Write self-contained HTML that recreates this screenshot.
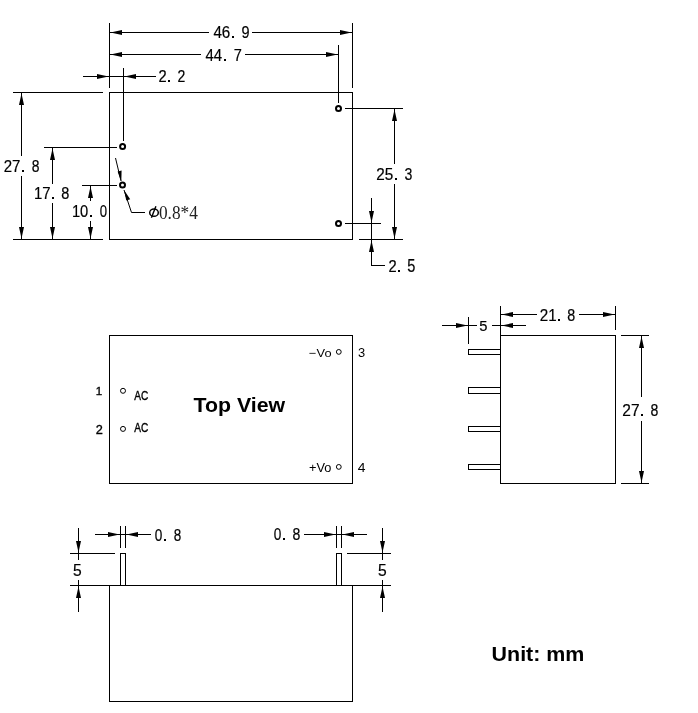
<!DOCTYPE html>
<html><head><meta charset="utf-8"><style>
html,body{margin:0;padding:0;background:#fff;width:698px;height:713px;overflow:hidden}
svg{display:block;filter:grayscale(100%)}
</style></head><body>
<svg width="698" height="713" viewBox="0 0 698 713">
<rect width="698" height="713" fill="#fff"/>
<g stroke="#000" fill="#000" shape-rendering="crispEdges">
<line x1="109" y1="92.5" x2="353" y2="92.5" stroke-width="1"/>
<line x1="109.5" y1="92" x2="109.5" y2="240" stroke-width="1"/>
<line x1="352.5" y1="92" x2="352.5" y2="240" stroke-width="1"/>
<line x1="109" y1="239.5" x2="353" y2="239.5" stroke-width="1"/>
<line x1="109.5" y1="23" x2="109.5" y2="88" stroke-width="1"/>
<line x1="352.5" y1="23" x2="352.5" y2="88" stroke-width="1"/>
<line x1="110" y1="32.5" x2="209" y2="32.5" stroke-width="1"/>
<line x1="252" y1="32.5" x2="352" y2="32.5" stroke-width="1"/>
<line x1="338.5" y1="45" x2="338.5" y2="103" stroke-width="1"/>
<line x1="110" y1="54.5" x2="201" y2="54.5" stroke-width="1"/>
<line x1="245" y1="54.5" x2="338" y2="54.5" stroke-width="1"/>
<line x1="123.5" y1="68" x2="123.5" y2="141" stroke-width="1"/>
<line x1="83" y1="76.5" x2="156" y2="76.5" stroke-width="1"/>
<line x1="13" y1="92.5" x2="103" y2="92.5" stroke-width="1"/>
<line x1="13" y1="239.5" x2="103" y2="239.5" stroke-width="1"/>
<line x1="21.5" y1="93" x2="21.5" y2="156" stroke-width="1"/>
<line x1="21.5" y1="176" x2="21.5" y2="239" stroke-width="1"/>
<line x1="44" y1="147.5" x2="117" y2="147.5" stroke-width="1"/>
<line x1="52.5" y1="148" x2="52.5" y2="184" stroke-width="1"/>
<line x1="52.5" y1="203" x2="52.5" y2="239" stroke-width="1"/>
<line x1="82" y1="185.5" x2="117" y2="185.5" stroke-width="1"/>
<line x1="90.5" y1="186" x2="90.5" y2="201" stroke-width="1"/>
<line x1="90.5" y1="221" x2="90.5" y2="239" stroke-width="1"/>
<line x1="345" y1="108.5" x2="403" y2="108.5" stroke-width="1"/>
<line x1="359" y1="239.5" x2="403" y2="239.5" stroke-width="1"/>
<line x1="394.5" y1="109" x2="394.5" y2="164" stroke-width="1"/>
<line x1="394.5" y1="184" x2="394.5" y2="239" stroke-width="1"/>
<line x1="345" y1="223.5" x2="381" y2="223.5" stroke-width="1"/>
<line x1="371.5" y1="198" x2="371.5" y2="265" stroke-width="1"/>
<line x1="371" y1="265.5" x2="385" y2="265.5" stroke-width="1"/>
<line x1="109" y1="335.5" x2="353" y2="335.5" stroke-width="1"/>
<line x1="109.5" y1="335" x2="109.5" y2="484" stroke-width="1"/>
<line x1="352.5" y1="335" x2="352.5" y2="484" stroke-width="1"/>
<line x1="109" y1="483.5" x2="353" y2="483.5" stroke-width="1"/>
<line x1="500.5" y1="306" x2="500.5" y2="484" stroke-width="1"/>
<line x1="615.5" y1="306" x2="615.5" y2="330" stroke-width="1"/>
<line x1="500" y1="335.5" x2="616" y2="335.5" stroke-width="1"/>
<line x1="615.5" y1="335" x2="615.5" y2="484" stroke-width="1"/>
<line x1="500" y1="483.5" x2="616" y2="483.5" stroke-width="1"/>
<line x1="468" y1="349.5" x2="501" y2="349.5" stroke-width="1"/>
<line x1="468" y1="354.5" x2="501" y2="354.5" stroke-width="1"/>
<line x1="468.5" y1="349" x2="468.5" y2="355" stroke-width="1"/>
<line x1="468" y1="387.5" x2="501" y2="387.5" stroke-width="1"/>
<line x1="468" y1="393.5" x2="501" y2="393.5" stroke-width="1"/>
<line x1="468.5" y1="387" x2="468.5" y2="394" stroke-width="1"/>
<line x1="468" y1="426.5" x2="501" y2="426.5" stroke-width="1"/>
<line x1="468" y1="431.5" x2="501" y2="431.5" stroke-width="1"/>
<line x1="468.5" y1="426" x2="468.5" y2="432" stroke-width="1"/>
<line x1="468" y1="464.5" x2="501" y2="464.5" stroke-width="1"/>
<line x1="468" y1="469.5" x2="501" y2="469.5" stroke-width="1"/>
<line x1="468.5" y1="464" x2="468.5" y2="470" stroke-width="1"/>
<line x1="501" y1="314.5" x2="537" y2="314.5" stroke-width="1"/>
<line x1="579" y1="314.5" x2="615" y2="314.5" stroke-width="1"/>
<line x1="468.5" y1="317" x2="468.5" y2="344" stroke-width="1"/>
<line x1="442" y1="325.5" x2="477" y2="325.5" stroke-width="1"/>
<line x1="492" y1="325.5" x2="526" y2="325.5" stroke-width="1"/>
<line x1="621" y1="335.5" x2="649" y2="335.5" stroke-width="1"/>
<line x1="621" y1="483.5" x2="649" y2="483.5" stroke-width="1"/>
<line x1="641.5" y1="336" x2="641.5" y2="397" stroke-width="1"/>
<line x1="641.5" y1="421" x2="641.5" y2="483" stroke-width="1"/>
<line x1="109" y1="585.5" x2="353" y2="585.5" stroke-width="1"/>
<line x1="109.5" y1="585" x2="109.5" y2="702" stroke-width="1"/>
<line x1="352.5" y1="585" x2="352.5" y2="702" stroke-width="1"/>
<line x1="109" y1="701.5" x2="353" y2="701.5" stroke-width="1"/>
<line x1="120" y1="553.5" x2="126" y2="553.5" stroke-width="1"/>
<line x1="120.5" y1="553" x2="120.5" y2="585" stroke-width="1"/>
<line x1="125.5" y1="553" x2="125.5" y2="585" stroke-width="1"/>
<line x1="120.5" y1="526" x2="120.5" y2="548" stroke-width="1"/>
<line x1="125.5" y1="526" x2="125.5" y2="548" stroke-width="1"/>
<line x1="336" y1="553.5" x2="342" y2="553.5" stroke-width="1"/>
<line x1="336.5" y1="553" x2="336.5" y2="585" stroke-width="1"/>
<line x1="341.5" y1="553" x2="341.5" y2="585" stroke-width="1"/>
<line x1="336.5" y1="526" x2="336.5" y2="548" stroke-width="1"/>
<line x1="341.5" y1="526" x2="341.5" y2="548" stroke-width="1"/>
<line x1="95" y1="534.5" x2="151" y2="534.5" stroke-width="1"/>
<line x1="304" y1="534.5" x2="367" y2="534.5" stroke-width="1"/>
<line x1="70" y1="553.5" x2="115" y2="553.5" stroke-width="1"/>
<line x1="70" y1="585.5" x2="109" y2="585.5" stroke-width="1"/>
<line x1="78.5" y1="528" x2="78.5" y2="560" stroke-width="1"/>
<line x1="78.5" y1="580" x2="78.5" y2="612" stroke-width="1"/>
<line x1="347" y1="553.5" x2="391" y2="553.5" stroke-width="1"/>
<line x1="352" y1="585.5" x2="391" y2="585.5" stroke-width="1"/>
<line x1="382.5" y1="528" x2="382.5" y2="560" stroke-width="1"/>
<line x1="382.5" y1="580" x2="382.5" y2="612" stroke-width="1"/>
</g>
<g stroke="#000" fill="#000">
<polygon stroke="none" points="110.50,32.50 122.00,30.00 122.00,35.00"/>
<polygon stroke="none" points="351.50,32.50 340.00,30.00 340.00,35.00"/>
<rect x="232" y="36" width="2" height="2" stroke="none" shape-rendering="crispEdges"/>
<polygon stroke="none" points="110.50,54.50 122.00,52.00 122.00,57.00"/>
<polygon stroke="none" points="337.50,54.50 326.00,52.00 326.00,57.00"/>
<rect x="224" y="59" width="2" height="2" stroke="none" shape-rendering="crispEdges"/>
<polygon stroke="none" points="108.50,76.50 97.00,74.00 97.00,79.00"/>
<polygon stroke="none" points="124.50,76.50 136.00,74.00 136.00,79.00"/>
<rect x="168" y="80" width="2" height="2" stroke="none" shape-rendering="crispEdges"/>
<polygon stroke="none" points="21.50,93.50 19.00,105.00 24.00,105.00"/>
<polygon stroke="none" points="21.50,238.50 19.00,227.00 24.00,227.00"/>
<rect x="22" y="170" width="2" height="2" stroke="none" shape-rendering="crispEdges"/>
<polygon stroke="none" points="52.50,148.50 50.00,160.00 55.00,160.00"/>
<polygon stroke="none" points="52.50,238.50 50.00,227.00 55.00,227.00"/>
<rect x="52" y="197" width="2" height="2" stroke="none" shape-rendering="crispEdges"/>
<polygon stroke="none" points="90.50,186.50 88.00,198.00 93.00,198.00"/>
<polygon stroke="none" points="90.50,238.50 88.00,227.00 93.00,227.00"/>
<rect x="90" y="215" width="2" height="2" stroke="none" shape-rendering="crispEdges"/>
<circle cx="122.6" cy="146.4" r="2.5" fill="none" stroke-width="2"/>
<circle cx="122.5" cy="185" r="2.5" fill="none" stroke-width="2"/>
<circle cx="338.5" cy="108.5" r="2.5" fill="none" stroke-width="2"/>
<circle cx="338.5" cy="223.5" r="2.5" fill="none" stroke-width="2"/>
<line x1="115.5" y1="158" x2="121" y2="181" stroke-width="1"/>
<polygon stroke="none" points="121.3,181.5 117.6,171.6 121.6,170.6"/>
<polyline points="124,190 131.5,212.5 145,212.5" fill="none" stroke-width="1"/>
<polygon stroke="none" points="124,190 130.2,199.2 126.3,200.5"/>
<ellipse cx="154" cy="212.7" rx="4.3" ry="3.6" fill="none" stroke-width="1.5"/>
<line x1="151.4" y1="217.8" x2="155.9" y2="206.3" stroke-width="1.4"/>
<polygon stroke="none" points="394.50,109.50 392.00,121.00 397.00,121.00"/>
<polygon stroke="none" points="394.50,238.50 392.00,227.00 397.00,227.00"/>
<rect x="395" y="178" width="2" height="2" stroke="none" shape-rendering="crispEdges"/>
<polygon stroke="none" points="371.50,222.50 369.00,211.00 374.00,211.00"/>
<polygon stroke="none" points="371.50,240.50 369.00,252.00 374.00,252.00"/>
<rect x="398" y="270" width="2" height="2" stroke="none" shape-rendering="crispEdges"/>
<circle cx="123" cy="390.8" r="2.5" fill="none" stroke-width="1.0"/>
<circle cx="123" cy="428.9" r="2.5" fill="none" stroke-width="1.0"/>
<circle cx="338.8" cy="351.9" r="2.4" fill="none" stroke-width="1.0"/>
<circle cx="338.8" cy="466.9" r="2.4" fill="none" stroke-width="1.0"/>
<polygon stroke="none" points="501.50,314.50 513.00,312.00 513.00,317.00"/>
<polygon stroke="none" points="614.50,314.50 603.00,312.00 603.00,317.00"/>
<rect x="558" y="319" width="2" height="2" stroke="none" shape-rendering="crispEdges"/>
<polygon stroke="none" points="467.50,325.50 456.00,323.00 456.00,328.00"/>
<polygon stroke="none" points="501.50,325.50 513.00,323.00 513.00,328.00"/>
<polygon stroke="none" points="641.50,336.50 639.00,348.00 644.00,348.00"/>
<polygon stroke="none" points="641.50,482.50 639.00,471.00 644.00,471.00"/>
<rect x="641" y="414" width="2" height="2" stroke="none" shape-rendering="crispEdges"/>
<polygon stroke="none" points="119.50,534.50 108.00,532.00 108.00,537.00"/>
<polygon stroke="none" points="126.50,534.50 138.00,532.00 138.00,537.00"/>
<rect x="164" y="539" width="2" height="2" stroke="none" shape-rendering="crispEdges"/>
<polygon stroke="none" points="335.50,534.50 324.00,532.00 324.00,537.00"/>
<polygon stroke="none" points="342.50,534.50 354.00,532.00 354.00,537.00"/>
<rect x="283" y="538" width="2" height="2" stroke="none" shape-rendering="crispEdges"/>
<polygon stroke="none" points="78.50,552.50 76.00,541.00 81.00,541.00"/>
<polygon stroke="none" points="78.50,586.50 76.00,598.00 81.00,598.00"/>
<polygon stroke="none" points="382.50,552.50 380.00,541.00 385.00,541.00"/>
<polygon stroke="none" points="382.50,586.50 380.00,598.00 385.00,598.00"/>
</g>
<text transform="translate(213.42,37.95) scale(0.892,1)" font-family="Liberation Sans" font-weight="normal" font-size="17.05" fill="#000" stroke="#000" stroke-width="0.2">46</text>
<text transform="translate(241.38,37.95) scale(0.851,1)" font-family="Liberation Sans" font-weight="normal" font-size="17.05" fill="#000" stroke="#000" stroke-width="0.2">9</text>
<text transform="translate(205.42,60.75) scale(0.882,1)" font-family="Liberation Sans" font-weight="normal" font-size="17.01" fill="#000" stroke="#000" stroke-width="0.2">44</text>
<text transform="translate(233.69,60.75) scale(0.855,1)" font-family="Liberation Sans" font-weight="normal" font-size="17.01" fill="#000" stroke="#000" stroke-width="0.2">7</text>
<text transform="translate(158.52,81.95) scale(0.862,1)" font-family="Liberation Sans" font-weight="normal" font-size="17.05" fill="#000" stroke="#000" stroke-width="0.2">2</text>
<text transform="translate(177.55,81.95) scale(0.823,1)" font-family="Liberation Sans" font-weight="normal" font-size="17.05" fill="#000" stroke="#000" stroke-width="0.2">2</text>
<text transform="translate(3.70,171.95) scale(0.874,1)" font-family="Liberation Sans" font-weight="normal" font-size="17.19" fill="#000" stroke="#000" stroke-width="0.2">27</text>
<text transform="translate(31.64,171.95) scale(0.808,1)" font-family="Liberation Sans" font-weight="normal" font-size="17.19" fill="#000" stroke="#000" stroke-width="0.2">8</text>
<text transform="translate(33.92,198.75) scale(0.900,1)" font-family="Liberation Sans" font-weight="normal" font-size="16.57" fill="#000" stroke="#000" stroke-width="0.2">17</text>
<text transform="translate(61.31,198.75) scale(0.890,1)" font-family="Liberation Sans" font-weight="normal" font-size="16.33" fill="#000" stroke="#000" stroke-width="0.2">8</text>
<text transform="translate(71.93,216.75) scale(0.879,1)" font-family="Liberation Sans" font-weight="normal" font-size="16.76" fill="#000" stroke="#000" stroke-width="0.2">10</text>
<text transform="translate(99.72,216.75) scale(0.786,1)" font-family="Liberation Sans" font-weight="normal" font-size="16.76" fill="#000" stroke="#000" stroke-width="0.2">0</text>
<text transform="translate(158.94,218.50) scale(0.952,1)" font-family="Liberation Serif" font-weight="normal" font-size="18.17" fill="#222" >0.8*4</text>
<text transform="translate(376.29,179.95) scale(0.920,1)" font-family="Liberation Sans" font-weight="normal" font-size="16.62" fill="#000" stroke="#000" stroke-width="0.2">25</text>
<text transform="translate(404.51,179.95) scale(0.851,1)" font-family="Liberation Sans" font-weight="normal" font-size="16.62" fill="#000" stroke="#000" stroke-width="0.2">3</text>
<text transform="translate(388.52,272.05) scale(0.855,1)" font-family="Liberation Sans" font-weight="normal" font-size="17.19" fill="#000" stroke="#000" stroke-width="0.2">2</text>
<text transform="translate(407.17,272.05) scale(0.835,1)" font-family="Liberation Sans" font-weight="normal" font-size="17.44" fill="#000" stroke="#000" stroke-width="0.2">5</text>
<text transform="translate(95.72,394.70) scale(1.034,1)" font-family="Liberation Sans" font-weight="normal" font-size="11.19" fill="#000" stroke="#000" stroke-width="0.35">1</text>
<text transform="translate(95.66,433.80) scale(1.032,1)" font-family="Liberation Sans" font-weight="normal" font-size="12.32" fill="#000" stroke="#000" stroke-width="0.35">2</text>
<text transform="translate(134.28,399.90) scale(0.843,1)" font-family="Liberation Sans" font-weight="normal" font-size="12.03" fill="#000" stroke="#000" stroke-width="0.35">AC</text>
<text transform="translate(134.18,431.70) scale(0.843,1)" font-family="Liberation Sans" font-weight="normal" font-size="12.03" fill="#000" stroke="#000" stroke-width="0.35">AC</text>
<text transform="translate(309.06,356.50) scale(1.090,1)" font-family="Liberation Sans" font-weight="normal" font-size="11.77" fill="#000" >−Vo</text>
<text transform="translate(309.08,471.80) scale(1.062,1)" font-family="Liberation Sans" font-weight="normal" font-size="12.06" fill="#000" >+Vo</text>
<text transform="translate(357.91,357.00) scale(1.045,1)" font-family="Liberation Sans" font-weight="normal" font-size="12.32" fill="#000" >3</text>
<text transform="translate(357.69,472.00) scale(1.062,1)" font-family="Liberation Sans" font-weight="normal" font-size="13.08" fill="#000" >4</text>
<text transform="translate(193.54,411.80) scale(1.022,1)" font-family="Liberation Sans" font-weight="bold" font-size="20.86" fill="#000" >Top View</text>
<text transform="translate(539.79,320.85) scale(0.883,1)" font-family="Liberation Sans" font-weight="normal" font-size="17.19" fill="#000" stroke="#000" stroke-width="0.2">21</text>
<text transform="translate(567.32,320.85) scale(0.833,1)" font-family="Liberation Sans" font-weight="normal" font-size="17.19" fill="#000" stroke="#000" stroke-width="0.2">8</text>
<text transform="translate(479.31,331.30) scale(0.950,1)" font-family="Liberation Sans" font-weight="normal" font-size="15.55" fill="#000" stroke="#000" stroke-width="0.2">5</text>
<text transform="translate(622.37,415.85) scale(0.902,1)" font-family="Liberation Sans" font-weight="normal" font-size="17.19" fill="#000" stroke="#000" stroke-width="0.2">27</text>
<text transform="translate(650.53,415.85) scale(0.820,1)" font-family="Liberation Sans" font-weight="normal" font-size="17.19" fill="#000" stroke="#000" stroke-width="0.2">8</text>
<text transform="translate(154.81,540.95) scale(0.784,1)" font-family="Liberation Sans" font-weight="normal" font-size="17.34" fill="#000" stroke="#000" stroke-width="0.2">0</text>
<text transform="translate(173.86,540.95) scale(0.777,1)" font-family="Liberation Sans" font-weight="normal" font-size="17.34" fill="#000" stroke="#000" stroke-width="0.2">8</text>
<text transform="translate(273.81,539.85) scale(0.811,1)" font-family="Liberation Sans" font-weight="normal" font-size="16.76" fill="#000" stroke="#000" stroke-width="0.2">0</text>
<text transform="translate(292.53,539.85) scale(0.841,1)" font-family="Liberation Sans" font-weight="normal" font-size="16.76" fill="#000" stroke="#000" stroke-width="0.2">8</text>
<text transform="translate(72.98,575.90) scale(0.951,1)" font-family="Liberation Sans" font-weight="normal" font-size="16.42" fill="#000" stroke="#000" stroke-width="0.2">5</text>
<text transform="translate(378.08,575.90) scale(0.951,1)" font-family="Liberation Sans" font-weight="normal" font-size="16.42" fill="#000" stroke="#000" stroke-width="0.2">5</text>
<text transform="translate(491.62,661.30) scale(1.034,1)" font-family="Liberation Sans" font-weight="bold" font-size="20.72" fill="#000" >Unit: mm</text>
</svg>
</body></html>
